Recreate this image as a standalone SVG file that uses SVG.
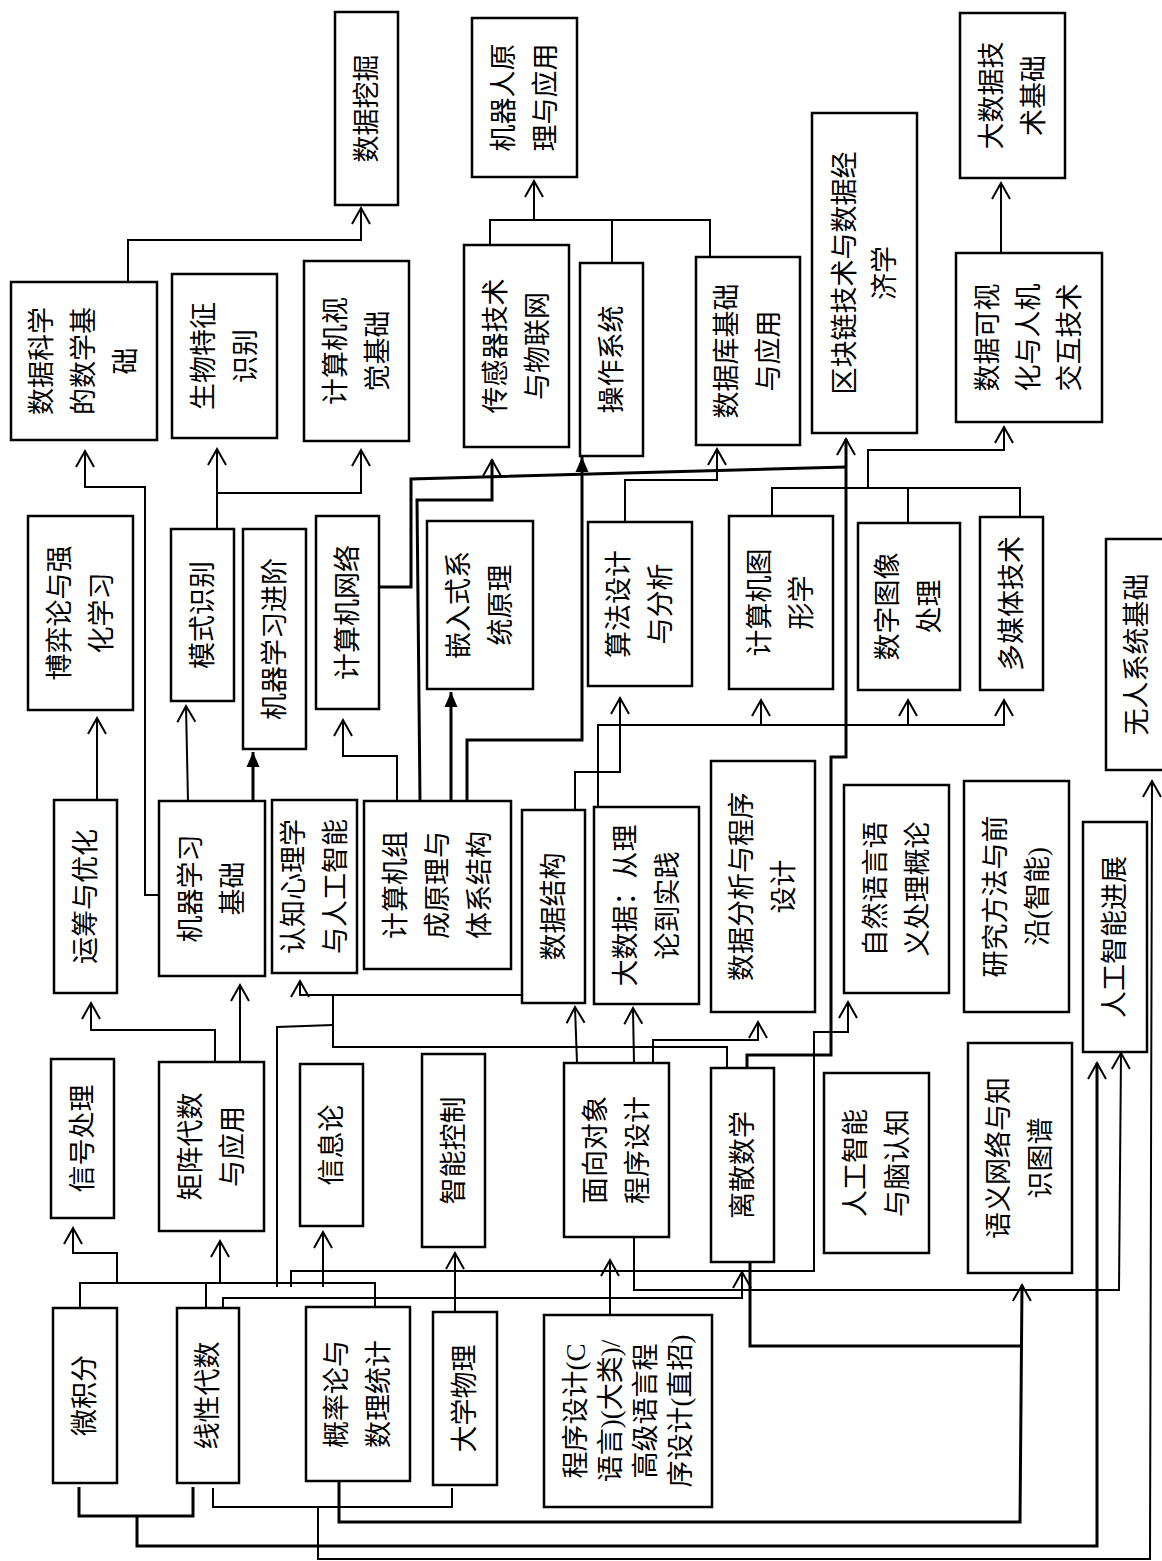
<svg xmlns="http://www.w3.org/2000/svg" width="1162" height="1561" viewBox="0 0 1162 1561">
<style>
.box{fill:#fff;stroke:#000;stroke-width:2.5}
.lbl{font-family:"Liberation Serif","Noto Sans CJK SC",serif;font-size:27px;text-anchor:middle;dominant-baseline:central;fill:#000}
.ln{fill:none;stroke:#000;stroke-width:2}
.tk{stroke-width:3}
.a{marker-end:url(#arr)}
.af{marker-end:url(#arrf)}
</style>
<defs>
<marker id="arr" markerUnits="userSpaceOnUse" markerWidth="24" markerHeight="24" viewBox="-20 -12 24 24" refX="0" refY="0" orient="auto" overflow="visible"><path d="M-16,-9 L0,0 L-16,9" fill="none" stroke="#000" stroke-width="2"/></marker>
<marker id="arrf" markerUnits="userSpaceOnUse" markerWidth="24" markerHeight="24" viewBox="-20 -12 24 24" refX="0" refY="0" orient="auto" overflow="visible"><path d="M-15,-6.5 L0,0 L-15,6.5 Z" fill="#000"/></marker>
</defs>
<rect width="1162" height="1561" fill="#fff"/>
<g id="connectors">
<path class="ln a" d="M128,282 V240 H361 V208"/>
<path class="ln" d="M490,245 V220 H710 V257 M612,263 V220"/>
<path class="ln a" d="M534,220 V181"/>
<path class="ln a" d="M1001,253 V183"/>
<path class="ln a" d="M159,895 H145 V487 H85 V451"/>
<path class="ln a" d="M217,529 V449"/>
<path class="ln a" d="M217,493 H361 V450"/>
<path class="ln a" d="M97,800 V718"/>
<path class="ln a" d="M188,801 L186,706"/>
<path class="ln tk af" d="M253,801 V752"/>
<path class="ln a" d="M397,801 V756 H343 V720"/>
<path class="ln tk a" d="M420,801 L417,500 H492 V460"/>
<path class="ln tk af" d="M451,801 V692"/>
<path class="ln tk af" d="M467,801 V740 H582 V457"/>
<path class="ln tk" d="M379,587 H411 V479 L846,467"/>
<path class="ln tk a" d="M747,1068 V1055 H831 V757 H846 V439"/>
<path class="ln a" d="M625,522 V480 H717 V449"/>
<path class="ln" d="M772,516 V488 H1020 V517 M908,523 V488"/>
<path class="ln a" d="M868,488 V450 H1004 V427"/>
<path class="ln a" d="M598,807 V725 H1004 V700"/>
<path class="ln a" d="M761,725 V700"/>
<path class="ln a" d="M908,725 V700"/>
<path class="ln a" d="M575,810 V772 H620 V698"/>
<path class="ln a" d="M577,1063 L575,1007"/>
<path class="ln a" d="M634,1063 L633,1008"/>
<path class="ln a" d="M653,1063 V1040 H758 V1022"/>
<path class="ln" d="M80,1308 V1283 H375 V1307 M206,1308 V1283"/>
<path class="ln a" d="M117,1283 V1253 H73 V1228"/>
<path class="ln a" d="M220,1283 V1241"/>
<path class="ln a" d="M323,1287 V1232"/>
<path class="ln" d="M277,1287 V1027 L333,1025"/>
<path class="ln a" d="M291,1287 V1271 H814 V1032 H848 V1002"/>
<path class="ln a" d="M522,995 H300 V981"/>
<path class="ln" d="M333,995 V1047 H727 V1068"/>
<path class="ln a" d="M215,1062 V1030 H91 V1003"/>
<path class="ln a" d="M240,1062 V985"/>
<path class="ln a" d="M455,1312 V1253"/>
<path class="ln a" d="M223,1308 V1298 H742 V1272"/>
<path class="ln a" d="M610,1315 V1260"/>
<path class="ln a" d="M634,1237 V1290 H1119 L1121,1053"/>
<path class="ln tk" d="M750,1262 V1346 H1021"/>
<path class="ln tk a" d="M339,1481 V1522 H1020 L1022,1285"/>
<path class="ln tk" d="M79,1487 V1516 H193 V1487"/>
<path class="ln tk a" d="M137,1516 V1546 H1097 V1063"/>
<path class="ln" d="M213,1488 V1507 H452 V1488"/>
<path class="ln a" d="M318,1507 V1559 H1150 L1152,781"/>
</g>
<g id="n1"><rect class="box" x="335" y="12" width="63" height="193"/><text class="lbl" transform="translate(366.5 108.5) rotate(-90)"><tspan x="0" y="0">数据挖掘</tspan></text></g>
<g id="n2"><rect class="box" x="472" y="18" width="105" height="159"/><text class="lbl" transform="translate(524.5 97.5) rotate(-90)"><tspan x="0" y="-21">机器人原</tspan><tspan x="0" y="21">理与应用</tspan></text></g>
<g id="n3"><rect class="box" x="960" y="13" width="105" height="165"/><text class="lbl" transform="translate(1012.5 95.5) rotate(-90)"><tspan x="0" y="-21">大数据技</tspan><tspan x="0" y="21">术基础</tspan></text></g>
<g id="n4"><rect class="box" x="812" y="113" width="105" height="320"/><text class="lbl" transform="translate(864.5 273) rotate(-90)"><tspan x="0" y="-20">区块链技术与数据经</tspan><tspan x="0" y="20">济学</tspan></text></g>
<g id="n5"><rect class="box" x="11" y="282" width="146" height="158"/><text class="lbl" transform="translate(84 361) rotate(-90)"><tspan x="0" y="-42">数据科学</tspan><tspan x="0" y="0">的数学基</tspan><tspan x="0" y="42">础</tspan></text></g>
<g id="n6"><rect class="box" x="172" y="274" width="105" height="164"/><text class="lbl" transform="translate(224.5 356) rotate(-90)"><tspan x="0" y="-21">生物特征</tspan><tspan x="0" y="21">识别</tspan></text></g>
<g id="n7"><rect class="box" x="304" y="261" width="105" height="180"/><text class="lbl" transform="translate(356.5 351) rotate(-90)"><tspan x="0" y="-21">计算机视</tspan><tspan x="0" y="21">觉基础</tspan></text></g>
<g id="n8"><rect class="box" x="464" y="245" width="105" height="202"/><text class="lbl" transform="translate(516.5 346) rotate(-90)"><tspan x="0" y="-21">传感器技术</tspan><tspan x="0" y="21">与物联网</tspan></text></g>
<g id="n9"><rect class="box" x="580" y="263" width="63" height="193"/><text class="lbl" transform="translate(611.5 359.5) rotate(-90)"><tspan x="0" y="0">操作系统</tspan></text></g>
<g id="n10"><rect class="box" x="696" y="257" width="104" height="188"/><text class="lbl" transform="translate(748 351) rotate(-90)"><tspan x="0" y="-21">数据库基础</tspan><tspan x="0" y="21">与应用</tspan></text></g>
<g id="n11"><rect class="box" x="956" y="253" width="146" height="169"/><text class="lbl" transform="translate(1029 337.5) rotate(-90)"><tspan x="0" y="-41">数据可视</tspan><tspan x="0" y="0">化与人机</tspan><tspan x="0" y="41">交互技术</tspan></text></g>
<g id="n12"><rect class="box" x="28" y="516" width="105" height="194"/><text class="lbl" transform="translate(80.5 613) rotate(-90)"><tspan x="0" y="-21">博弈论与强</tspan><tspan x="0" y="21">化学习</tspan></text></g>
<g id="n13"><rect class="box" x="171" y="529" width="63" height="172"/><text class="lbl" transform="translate(202.5 615) rotate(-90)"><tspan x="0" y="0">模式识别</tspan></text></g>
<g id="n14"><rect class="box" x="243" y="529" width="63" height="220"/><text class="lbl" transform="translate(274.5 639) rotate(-90)"><tspan x="0" y="0">机器学习进阶</tspan></text></g>
<g id="n15"><rect class="box" x="316" y="516" width="63" height="193"/><text class="lbl" transform="translate(347.5 612.5) rotate(-90)"><tspan x="0" y="0">计算机网络</tspan></text></g>
<g id="n16"><rect class="box" x="427" y="521" width="106" height="168"/><text class="lbl" transform="translate(480 605) rotate(-90)"><tspan x="0" y="-21">嵌入式系</tspan><tspan x="0" y="21">统原理</tspan></text></g>
<g id="n17"><rect class="box" x="588" y="522" width="104" height="164"/><text class="lbl" transform="translate(640 604) rotate(-90)"><tspan x="0" y="-21">算法设计</tspan><tspan x="0" y="21">与分析</tspan></text></g>
<g id="n18"><rect class="box" x="729" y="516" width="104" height="173"/><text class="lbl" transform="translate(781 602.5) rotate(-90)"><tspan x="0" y="-21">计算机图</tspan><tspan x="0" y="21">形学</tspan></text></g>
<g id="n19"><rect class="box" x="858" y="523" width="102" height="167"/><text class="lbl" transform="translate(909 606.5) rotate(-90)"><tspan x="0" y="-21">数字图像</tspan><tspan x="0" y="21">处理</tspan></text></g>
<g id="n20"><rect class="box" x="980" y="517" width="63" height="173"/><text class="lbl" transform="translate(1011.5 603.5) rotate(-90)"><tspan x="0" y="0">多媒体技术</tspan></text></g>
<g id="n21"><rect class="box" x="1106" y="539" width="62" height="231"/><text class="lbl" transform="translate(1137 654.5) rotate(-90)"><tspan x="0" y="0">无人系统基础</tspan></text></g>
<g id="n22"><rect class="box" x="54" y="800" width="63" height="193"/><text class="lbl" transform="translate(85.5 896.5) rotate(-90)"><tspan x="0" y="0">运筹与优化</tspan></text></g>
<g id="n23"><rect class="box" x="159" y="801" width="106" height="175"/><text class="lbl" transform="translate(212 888.5) rotate(-90)"><tspan x="0" y="-21">机器学习</tspan><tspan x="0" y="21">基础</tspan></text></g>
<g id="n24"><rect class="box" x="272" y="800" width="85" height="173"/><text class="lbl" transform="translate(314.5 886.5) rotate(-90)"><tspan x="0" y="-21">认知心理学</tspan><tspan x="0" y="21">与人工智能</tspan></text></g>
<g id="n25"><rect class="box" x="364" y="801" width="147" height="168"/><text class="lbl" transform="translate(437.5 885) rotate(-90)"><tspan x="0" y="-42">计算机组</tspan><tspan x="0" y="0">成原理与</tspan><tspan x="0" y="42">体系结构</tspan></text></g>
<g id="n26"><rect class="box" x="522" y="810" width="63" height="193"/><text class="lbl" transform="translate(553.5 906.5) rotate(-90)"><tspan x="0" y="0">数据结构</tspan></text></g>
<g id="n27"><rect class="box" x="594" y="807" width="105" height="197"/><text class="lbl" transform="translate(646.5 905.5) rotate(-90)"><tspan x="0" y="-21">大数据：从理</tspan><tspan x="0" y="21">论到实践</tspan></text></g>
<g id="n28"><rect class="box" x="711" y="761" width="104" height="251"/><text class="lbl" transform="translate(763 886.5) rotate(-90)"><tspan x="0" y="-21">数据分析与程序</tspan><tspan x="0" y="21">设计</tspan></text></g>
<g id="n29"><rect class="box" x="844" y="785" width="105" height="208"/><text class="lbl" transform="translate(896.5 889) rotate(-90)"><tspan x="0" y="-21">自然语言语</tspan><tspan x="0" y="21">义处理概论</tspan></text></g>
<g id="n30"><rect class="box" x="964" y="781" width="105" height="231"/><text class="lbl" transform="translate(1016.5 896.5) rotate(-90)"><tspan x="0" y="-21">研究方法与前</tspan><tspan x="0" y="21">沿(智能)</tspan></text></g>
<g id="n31"><rect class="box" x="1083" y="822" width="64" height="230"/><text class="lbl" transform="translate(1115 937) rotate(-90)"><tspan x="0" y="0">人工智能进展</tspan></text></g>
<g id="n32"><rect class="box" x="51" y="1059" width="63" height="159"/><text class="lbl" transform="translate(82.5 1138.5) rotate(-90)"><tspan x="0" y="0">信号处理</tspan></text></g>
<g id="n33"><rect class="box" x="159" y="1062" width="105" height="169"/><text class="lbl" transform="translate(211.5 1146.5) rotate(-90)"><tspan x="0" y="-21">矩阵代数</tspan><tspan x="0" y="21">与应用</tspan></text></g>
<g id="n34"><rect class="box" x="300" y="1064" width="63" height="162"/><text class="lbl" transform="translate(331.5 1145) rotate(-90)"><tspan x="0" y="0">信息论</tspan></text></g>
<g id="n35"><rect class="box" x="422" y="1054" width="63" height="193"/><text class="lbl" transform="translate(453.5 1150.5) rotate(-90)"><tspan x="0" y="0">智能控制</tspan></text></g>
<g id="n36"><rect class="box" x="564" y="1063" width="105" height="174"/><text class="lbl" transform="translate(616.5 1150) rotate(-90)"><tspan x="0" y="-21">面向对象</tspan><tspan x="0" y="21">程序设计</tspan></text></g>
<g id="n37"><rect class="box" x="711" y="1068" width="63" height="194"/><text class="lbl" transform="translate(742.5 1165) rotate(-90)"><tspan x="0" y="0">离散数学</tspan></text></g>
<g id="n38"><rect class="box" x="824" y="1073" width="105" height="180"/><text class="lbl" transform="translate(876.5 1163) rotate(-90)"><tspan x="0" y="-21">人工智能</tspan><tspan x="0" y="21">与脑认知</tspan></text></g>
<g id="n39"><rect class="box" x="968" y="1043" width="104" height="230"/><text class="lbl" transform="translate(1020 1158) rotate(-90)"><tspan x="0" y="-21">语义网络与知</tspan><tspan x="0" y="21">识图谱</tspan></text></g>
<g id="n40"><rect class="box" x="53" y="1308" width="64" height="175"/><text class="lbl" transform="translate(85 1395.5) rotate(-90)"><tspan x="0" y="0">微积分</tspan></text></g>
<g id="n41"><rect class="box" x="177" y="1308" width="62" height="175"/><text class="lbl" transform="translate(208 1395.5) rotate(-90)"><tspan x="0" y="0">线性代数</tspan></text></g>
<g id="n42"><rect class="box" x="306" y="1307" width="104" height="174"/><text class="lbl" transform="translate(358 1394) rotate(-90)"><tspan x="0" y="-21">概率论与</tspan><tspan x="0" y="21">数理统计</tspan></text></g>
<g id="n43"><rect class="box" x="433" y="1312" width="64" height="173"/><text class="lbl" transform="translate(465 1398.5) rotate(-90)"><tspan x="0" y="0">大学物理</tspan></text></g>
<g id="n44"><rect class="box" x="544" y="1315" width="168" height="192"/><text class="lbl" transform="translate(628 1411) rotate(-90)"><tspan x="0" y="-52.5">程序设计(C</tspan><tspan x="0" y="-17.5">语言)(大类)/</tspan><tspan x="0" y="17.5">高级语言程</tspan><tspan x="0" y="52.5">序设计(直招)</tspan></text></g>
</svg>
